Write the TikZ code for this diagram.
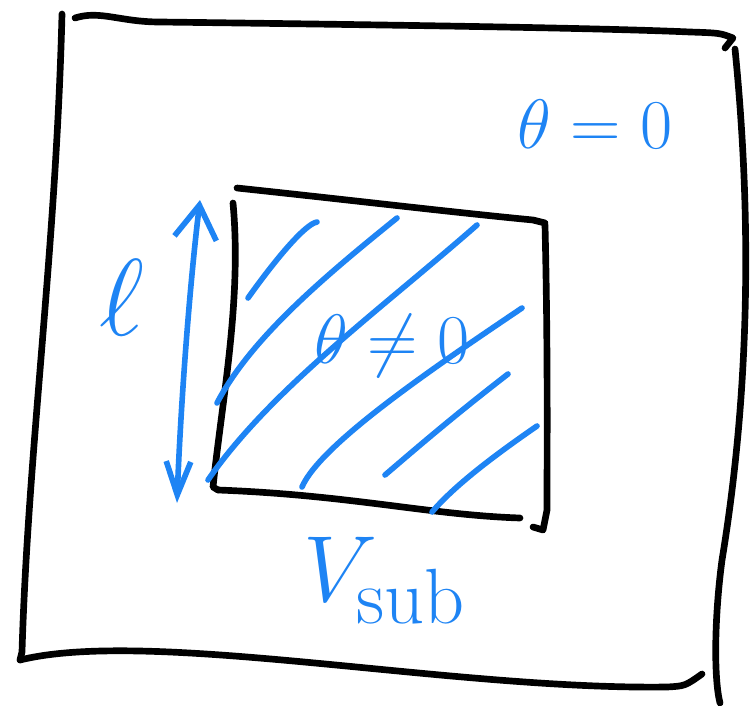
\documentclass[tikz,border=0pt]{standalone}
\usepackage{amsmath}
\usepackage{tikz}
\usetikzlibrary{arrows.meta, positioning}
\definecolor{pen}{RGB}{30,132,244}

\begin{document}
\begin{tikzpicture}[
		x=0.02cm, y=-0.02cm,
		frame/.style={line width=3.8pt, line cap=round, line join=round, black},
		hatch/.style={line width=3.2pt, line cap=round, pen},
		label/.style={pen, inner sep=0pt, font=\Huge},
		arrow/.style={line width=3.2pt, line cap=round, pen,
			{Straight Barb[length=19pt, width=24pt, line width=3.2pt]}-{Straight Barb[length=19pt, width=14pt, line width=3.2pt]}}
		]
		\useasboundingbox (0,0) rectangle (750,706);
		
		% Marco exterior
		\draw[frame] (62,14) .. controls (56,250) and (28,450) .. (22,652) -- (20,660);
		\draw[frame] (75,18) .. controls (100,10) and (120,22) .. (160,22) .. controls (400,25) and (600,28) .. (690,32) .. controls (720,33) .. (733,38) -- (725,48);
		\draw[frame] (735,49) .. controls (755,250) and (745,420) .. (722,560) .. controls (714,620) and (714,680) .. (720,703);
		\draw[frame] (20,660) .. controls (150,628) and (450,690) .. (667,687) .. controls (685,686) .. (702,674);
		
		% Cuadro interior
		\draw[frame] (237,188) .. controls (350,200) and (450,212) .. (533,220) -- (545,223);
		\draw[frame] (233,203) .. controls (242,300) and (222,400) .. (213,487) -- (218,490);
		\draw[frame] (218,490) .. controls (350,495) and (430,515) .. (520,518);
		\draw[frame] (545,225) .. controls (548,350) and (547,450) .. (547,510) -- (543,530) -- (533,527);
		
		% Rayado
		\draw[hatch] (317,222) .. controls (305,224) and (275,260) .. (248,298);
		\draw[hatch] (397,218) .. controls (320,280) and (250,340) .. (217,403);
		\draw[hatch] (477,225) .. controls (380,310) and (270,390) .. (208,480);
		\draw[hatch] (522,308) .. controls (430,370) and (320,445) .. (302,487);
		\draw[hatch] (508,374) .. controls (455,415) and (420,445) .. (385,475);
		\draw[hatch] (537,426) .. controls (495,455) and (455,485) .. (432,512);
		
		% Textos
		\node[label, scale=1.6] (inner) at (392,346) {$\theta\neq0$};
		\node[label, scale=1.6] (outer) at (595,124) {$\theta=0$};
		\node[label, scale=2.5] (len) at (122,298) {$\ell$};
		\node[label, scale=2.15] (vsub) at (385,580) {$V_{\mathrm{sub}}$};
		
		% Flecha de longitud
		\coordinate (ltop) at (200,200);
		\coordinate (lbot) at (177,503);
		\draw[arrow] (ltop) .. controls (188,300) and (180,420) .. (lbot);
	\end{tikzpicture}
\end{document}
